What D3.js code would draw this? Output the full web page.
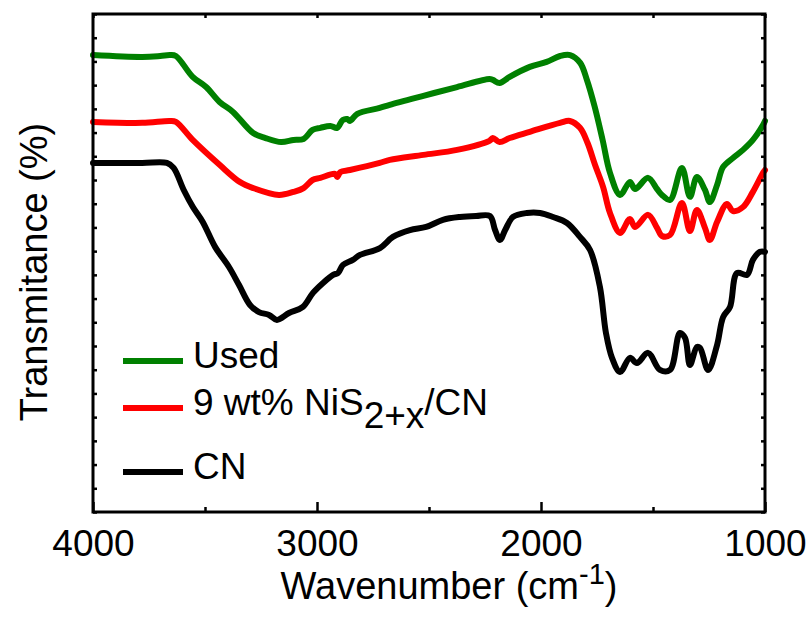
<!DOCTYPE html>
<html>
<head>
<meta charset="utf-8">
<script src="https://cdn.jsdelivr.net/npm/d3@7"></script>
<style>
body { margin: 0; background: #fff; }
text { font-family: "Liberation Sans", Arial, sans-serif; fill: #000; }
.line { fill: none; stroke-width: 6; stroke-linejoin: round; stroke-linecap: round; }
.frame { fill: none; stroke: #000; stroke-width: 3; }
</style>
</head>
<body>
<svg id="chart" width="811" height="630"></svg>
<script>
// FTIR spectra, [wavenumber, transmittance (a.u.)]
var usedData = [
    [4000,19.27],[3780,19.19],[3700,19.23],[3656,19.27],[3630,19.23],[3555,18.35],[3495,17.92],
    [3435,17.29],[3375,16.87],[3285,15.98],[3230,15.77],[3160,15.60],[3105,15.69],[3060,15.73],
    [3020,16.11],[2985,16.20],[2940,16.28],[2910,16.20],[2885,16.53],[2865,16.57],[2853,16.49],
    [2820,16.79],[2720,17.04],[2675,17.17],[2525,17.55],[2375,17.92],[2230,18.26],[2215,18.22],
    [2185,18.09],[2140,18.35],[2050,18.77],[1975,18.98],[1915,19.23],[1870,19.27],[1825,18.94],
    [1795,18.22],[1760,17.08],[1725,15.69],[1692,14.30],[1647,13.37],[1603,13.92],[1580,13.62],
    [1522,14.09],[1482,13.62],[1460,13.37],[1424,13.16],[1371,14.51],[1335,13.29],[1304,14.13],
    [1268,13.58],[1246,13.07],[1214,13.79],[1187,14.55],[1143,14.93],[1098,15.27],[1054,15.69],
    [1009,16.32],[1000,16.49]
]
var nisData = [
    [4000,16.45],[3780,16.41],[3656,16.49],[3630,16.45],[3555,15.69],[3435,14.64],[3345,13.92],
    [3285,13.66],[3170,13.37],[3105,13.50],[3060,13.66],[3020,14.00],[2985,14.09],[2920,14.26],
    [2910,14.13],[2895,14.34],[2853,14.42],[2720,14.72],[2675,14.85],[2525,15.06],[2375,15.27],
    [2230,15.65],[2215,15.77],[2185,15.60],[2140,15.77],[2050,16.03],[1915,16.41],[1871,16.49],
    [1826,16.20],[1792,15.56],[1759,14.64],[1723,13.71],[1692,12.61],[1647,11.77],[1603,12.36],
    [1580,12.02],[1522,12.53],[1482,11.98],[1460,11.64],[1424,11.68],[1371,13.03],[1335,11.85],
    [1304,12.74],[1268,11.98],[1246,11.47],[1214,12.23],[1170,12.99],[1143,12.69],[1098,12.86],
    [1054,13.50],[1009,14.30],[1000,14.42]
]
var cnData = [
    [4000,14.72],[3780,14.72],[3670,14.72],[3640,14.51],[3595,13.58],[3554,12.86],[3510,12.23],
    [3455,11.18],[3393,10.33],[3348,9.57],[3299,8.73],[3259,8.43],[3214,8.31],[3179,8.10],
    [3125,8.39],[3063,8.65],[3018,9.24],[2973,9.66],[2928,10.00],[2906,10.08],[2884,10.42],
    [2840,10.63],[2808,10.84],[2719,11.13],[2661,11.60],[2585,11.89],[2513,12.02],[2438,12.32],
    [2362,12.44],[2290,12.48],[2228,12.48],[2205,11.89],[2183,11.47],[2160,11.89],[2125,12.44],
    [2063,12.61],[2004,12.61],[1946,12.44],[1884,12.19],[1826,11.60],[1781,11.05],[1737,9.49],
    [1710,7.55],[1683,6.50],[1647,5.90],[1603,6.50],[1572,6.28],[1522,6.71],[1469,5.99],
    [1424,5.99],[1380,7.55],[1357,7.34],[1335,6.20],[1304,6.96],[1290,6.92],[1254,5.99],
    [1214,7.04],[1187,8.22],[1156,8.65],[1125,10.08],[1080,10.00],[1054,10.63],[1022,10.97],
    [1000,10.97]
]

var xMajor = [4000, 3000, 2000, 1000]
var xMinor = [3500, 2500, 1500]
var yTicks = d3.range(0, 22, 1)

var seriesNames = ["Used", "9 wt% NiS", "CN"]
var seriesColors = ["#008000", "#ff0000", "#000000"]

var margin = { top: 14, right: 46, bottom: 118, left: 93 },
    width = 811 - margin.left - margin.right,
    height = 630 - margin.top - margin.bottom

var svg = d3.select("#chart")
var g = svg.append("g").attr("transform", "translate(" + margin.left + "," + margin.top + ")")

// scales
var x = d3.scaleLinear().domain([4000, 1000]).range([0, width])
var y = d3.scaleLinear().domain([0, 21]).range([height, 0])

var line = d3.line()
    .x(function(d) { return x(d[0]) })
    .y(function(d) { return y(d[1]) })
    .curve(d3.curveCatmullRom.alpha(0.5))

// curves (black first, green on top)
var allData = [usedData, nisData, cnData]
allData.slice().reverse().forEach(function(data, i) {
    var k = allData.length - 1 - i
    g.append("path")
        .datum(data)
        .attr("class", "line")
        .attr("stroke", seriesColors[k])
        .attr("d", line)
})

// axes (ticks pointing inward)
function styleAxis(sel) {
    sel.select(".domain").remove()
    sel.selectAll(".tick line").attr("stroke", "#000").attr("stroke-width", 2.5)
}

g.append("g")
    .attr("transform", "translate(0," + height + ")")
    .call(d3.axisBottom(x).tickValues(xMajor).tickSize(-10).tickPadding(18).tickFormat(d3.format("d")))
    .call(styleAxis)

g.append("g")
    .attr("transform", "translate(0," + height + ")")
    .call(d3.axisBottom(x).tickValues(xMinor).tickSize(-5).tickFormat(""))
    .call(styleAxis)

g.append("g")
    .call(d3.axisTop(x).tickValues(xMajor.concat(xMinor)).tickSize(-4).tickFormat(""))
    .call(styleAxis)

g.append("g")
    .call(d3.axisLeft(y).tickValues(yTicks).tickSize(-4).tickFormat(""))
    .call(styleAxis)

g.append("g")
    .attr("transform", "translate(" + width + ",0)")
    .call(d3.axisRight(y).tickValues(yTicks).tickSize(-4).tickFormat(""))
    .call(styleAxis)

g.selectAll(".tick text")
    .attr("font-family", null)
    .attr("font-size", null)
    .attr("fill", "#000")
    .style("font-size", "37px")

g.append("rect")
    .attr("class", "frame")
    .attr("width", width)
    .attr("height", height)

// axis titles
var xTitle = svg.append("text")
    .attr("x", 449)
    .attr("y", 599)
    .attr("text-anchor", "middle")
    .style("font-size", "38px")
xTitle.append("tspan").text("Wavenumber (cm")
xTitle.append("tspan").attr("dy", -15).style("font-size", "29px").text("-1")
xTitle.append("tspan").attr("dy", 15).text(")")

svg.append("text")
    .attr("transform", "translate(47," + (margin.top + 258) + ") rotate(-90)")
    .attr("text-anchor", "middle")
    .style("font-size", "38px")
    .text("Transmitance (%)")

// legend
var legendY = [361, 408, 472]
var legend = svg.append("g")
seriesNames.forEach(function(name, i) {
    legend.append("line")
        .attr("x1", 123).attr("x2", 183)
        .attr("y1", legendY[i]).attr("y2", legendY[i])
        .attr("stroke", seriesColors[i])
        .attr("stroke-width", 6)
    var t = legend.append("text")
        .attr("x", 193)
        .attr("y", legendY[i] + 7)
        .style("font-size", "37px")
    t.append("tspan").text(name)
    if (i == 1) {
        t.append("tspan").attr("dy", 13).text("2+x")
        t.append("tspan").attr("dy", -13).text("/CN")
    }
})
</script>
</body>
</html>
